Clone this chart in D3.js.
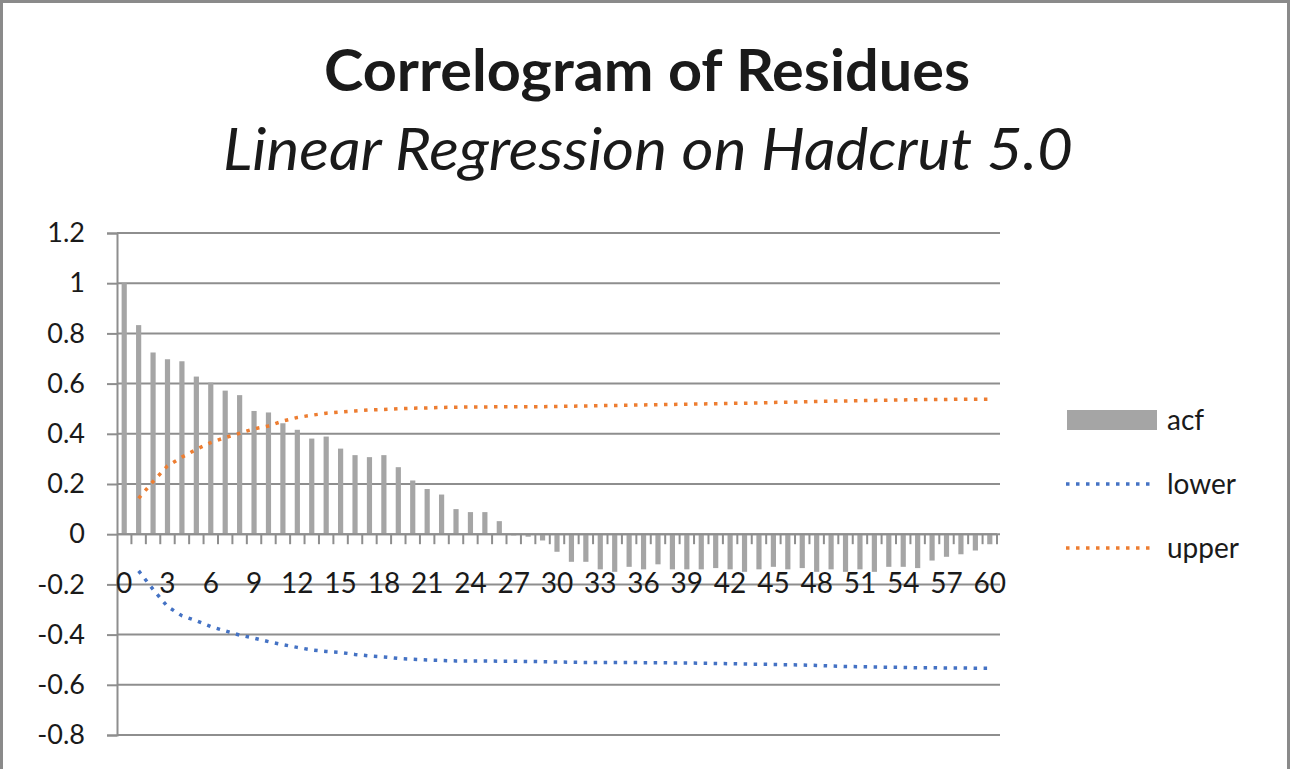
<!DOCTYPE html>
<html>
<head>
<meta charset="utf-8">
<script src="https://cdn.jsdelivr.net/npm/d3@7"></script>
<style>
  body { margin: 0; background: #fff; }
  text { font-family: Lato, "Open Sans", sans-serif; fill: #1a1a1a; }
</style>
</head>
<body>
<script>
// chart values
const lags = d3.range(0, 61)

const acf = [1.0, 0.833, 0.724, 0.697, 0.689, 0.628, 0.604, 0.572, 0.554, 0.491,
  0.485, 0.442, 0.416, 0.381, 0.389, 0.341, 0.315, 0.307, 0.315, 0.267,
  0.214, 0.18, 0.158, 0.10, 0.088, 0.088, 0.052, -0.005, -0.01, -0.025,
  -0.07, -0.11, -0.11, -0.14, -0.15, -0.13, -0.14, -0.12, -0.14, -0.14,
  -0.14, -0.135, -0.14, -0.15, -0.14, -0.13, -0.14, -0.135, -0.15, -0.14,
  -0.15, -0.14, -0.15, -0.13, -0.13, -0.135, -0.105, -0.09, -0.08, -0.065,
  -0.04]

const upper = [null, 0.143, 0.21, 0.272, 0.307, 0.338, 0.365, 0.385, 0.402, 0.42,
  0.431, 0.451, 0.465, 0.474, 0.482, 0.487, 0.491, 0.495, 0.497, 0.5,
  0.502, 0.503, 0.505, 0.506, 0.507, 0.507, 0.508, 0.508, 0.508, 0.508,
  0.509, 0.51, 0.511, 0.512, 0.513, 0.514, 0.515, 0.516, 0.517, 0.518,
  0.519, 0.52, 0.521, 0.522, 0.523, 0.525, 0.526, 0.527, 0.529, 0.53,
  0.531, 0.532, 0.533, 0.534, 0.535, 0.536, 0.537, 0.537, 0.538, 0.538,
  0.538]

const lower = [null, -0.146, -0.22, -0.288, -0.325, -0.345, -0.368, -0.385, -0.402, -0.414,
  -0.428, -0.44, -0.451, -0.461, -0.467, -0.471, -0.479, -0.485, -0.489, -0.495,
  -0.498, -0.501, -0.503, -0.505, -0.505, -0.505, -0.506, -0.506, -0.507, -0.508,
  -0.509, -0.51, -0.511, -0.511, -0.511, -0.511, -0.512, -0.512, -0.513, -0.513,
  -0.514, -0.515, -0.516, -0.517, -0.518, -0.519, -0.52, -0.521, -0.523, -0.525,
  -0.527, -0.528, -0.529, -0.53, -0.531, -0.532, -0.532, -0.533, -0.533, -0.534,
  -0.534]

const yTicks = [1.2, 1, 0.8, 0.6, 0.4, 0.2, 0, -0.2, -0.4, -0.6, -0.8]
const xLabelEvery = 3

const legendItems = [
  { name: 'acf', kind: 'bar', color: '#a5a5a5' },
  { name: 'lower', kind: 'line', color: '#4472c4' },
  { name: 'upper', kind: 'line', color: '#ed7d31' }
]

const frame = { width: 1290, height: 769 }
const plot = { left: 117, right: 997, top: 233, bottom: 735 }
const gridColor = '#8e8e8e'

const svg = d3.select('body').append('svg')
  .attr('width', frame.width)
  .attr('height', frame.height)

// outer frame
svg.append('rect')
  .attr('x', 1.5).attr('y', 1.5)
  .attr('width', frame.width - 3)
  .attr('height', frame.height + 10)
  .attr('fill', 'none')
  .attr('stroke', '#8a8a8a')
  .attr('stroke-width', 3)

// titles
svg.append('text')
  .attr('x', 647).attr('y', 91)
  .attr('text-anchor', 'middle')
  .attr('font-size', 57)
  .attr('font-weight', 'bold')
  .attr('textLength', 646)
  .attr('lengthAdjust', 'spacingAndGlyphs')
  .text('Correlogram of Residues')

svg.append('text')
  .attr('x', 648).attr('y', 170)
  .attr('text-anchor', 'middle')
  .attr('font-size', 58)
  .attr('font-style', 'italic')
  .attr('textLength', 850)
  .attr('lengthAdjust', 'spacingAndGlyphs')
  .text('Linear Regression on Hadcrut 5.0')

const x = d3.scaleBand()
  .domain(lags)
  .range([plot.left, plot.right])
  .paddingInner(0.64)
  .paddingOuter(0.32)

const y = d3.scaleLinear()
  .domain([-0.8, 1.2])
  .range([plot.bottom, plot.top])

// horizontal gridlines
svg.append('g')
  .selectAll('line')
  .data(yTicks)
  .join('line')
  .attr('x1', plot.left)
  .attr('x2', plot.right + 3)
  .attr('y1', d => y(d))
  .attr('y2', d => y(d))
  .attr('stroke', gridColor)
  .attr('stroke-width', 2)

// y axis, plain hyphen for negatives like the original
const yAxis = svg.append('g')
  .attr('transform', `translate(${plot.left},0)`)
  .call(d3.axisLeft(y).tickValues(yTicks).tickSize(10).tickPadding(22)
    .tickFormat(d => String(+d.toFixed(1))))
yAxis.select('.domain').attr('stroke', gridColor).attr('stroke-width', 2)
yAxis.selectAll('.tick line').attr('stroke', gridColor).attr('stroke-width', 2)
yAxis.selectAll('.tick text')
  .attr('font-size', 27)
  .attr('fill', '#1a1a1a')
  .style('font-family', 'Lato, sans-serif')

// bars
svg.append('g')
  .selectAll('rect')
  .data(acf)
  .join('rect')
  .attr('x', (d, i) => x(lags[i]))
  .attr('width', x.bandwidth())
  .attr('y', d => y(Math.max(0, d)))
  .attr('height', d => Math.abs(y(d) - y(0)))
  .attr('fill', '#a5a5a5')

// category axis at zero
const step = x.step()
svg.append('line')
  .attr('x1', plot.left).attr('x2', plot.right)
  .attr('y1', y(0)).attr('y2', y(0))
  .attr('stroke', gridColor).attr('stroke-width', 2)

svg.append('g')
  .selectAll('line')
  .data(lags)
  .join('line')
  .attr('x1', d => x(d) + x.bandwidth() / 2 + step / 2)
  .attr('x2', d => x(d) + x.bandwidth() / 2 + step / 2)
  .attr('y1', y(0))
  .attr('y2', y(0) + 10)
  .attr('stroke', gridColor)
  .attr('stroke-width', 2)

svg.append('g')
  .selectAll('text')
  .data(lags.filter(d => d % xLabelEvery === 0))
  .join('text')
  .attr('x', d => x(d) + x.bandwidth() / 2)
  .attr('y', 593)
  .attr('text-anchor', 'middle')
  .attr('font-size', 28)
  .text(d => d)

// confidence lines
const line = d3.line()
  .defined(d => d[1] != null)
  .x(d => x(d[0]) + x.bandwidth() / 2)
  .y(d => y(d[1]))

const drawDotted = (vals, color) => {
  svg.append('path')
    .datum(lags.map((l, i) => [l, vals[i]]))
    .attr('d', line)
    .attr('fill', 'none')
    .attr('stroke', color)
    .attr('stroke-width', 3.5)
    .attr('stroke-dasharray', '3.5,6.5')
}
drawDotted(lower, '#4472c4')
drawDotted(upper, '#ed7d31')

// legend
const legend = svg.append('g')
  .attr('transform', 'translate(1066,0)')

legendItems.forEach((item, i) => {
  const cy = 420 + i * 64
  if (item.kind === 'bar') {
    legend.append('rect')
      .attr('x', 1).attr('y', cy - 10)
      .attr('width', 90).attr('height', 20)
      .attr('fill', item.color)
  } else {
    legend.append('line')
      .attr('x1', 0).attr('x2', 90)
      .attr('y1', cy).attr('y2', cy)
      .attr('stroke', item.color)
      .attr('stroke-width', 3.5)
      .attr('stroke-dasharray', '3.5,6.5')
  }
  legend.append('text')
    .attr('x', 101).attr('y', cy + 10)
    .attr('font-size', 28)
    .text(item.name)
})
</script>
</body>
</html>
